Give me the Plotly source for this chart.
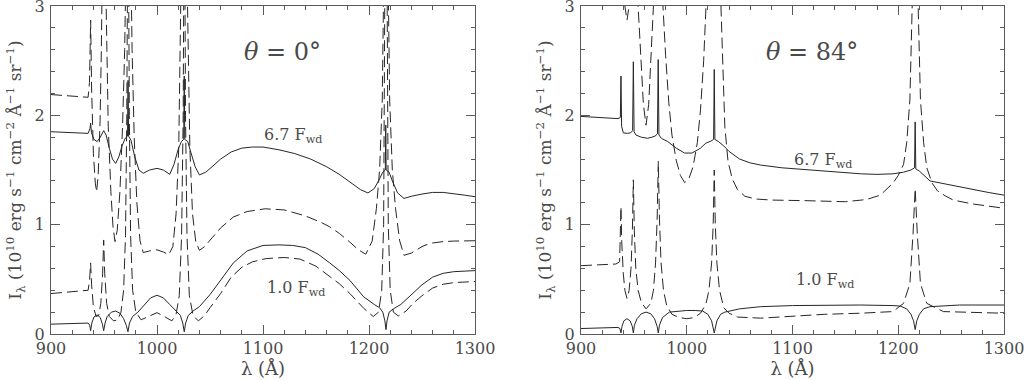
import plotly.graph_objects as go

# ---------------- data ----------------
# Left panel: theta = 0 deg
L67S_WL = [900, 920, 935, 936.8, 937.4, 938.2, 940.5, 943.5, 946.5, 949.7, 952, 955, 958, 961, 964, 967, 970,
           972.2, 972.7, 973.2, 975.5, 979, 983, 987, 993, 1000, 1006, 1012, 1016, 1020, 1023, 1025.2, 1025.7,
           1026.2, 1029, 1032, 1036, 1040, 1046, 1052, 1060, 1070, 1080, 1090, 1100, 1115, 1130, 1145, 1160,
           1172, 1182, 1192, 1199, 1205, 1210, 1213, 1215.4, 1215.8, 1216.2, 1219, 1222, 1227, 1233, 1240,
           1250, 1260, 1270, 1280, 1290, 1300]
L67S_I = [1.85, 1.845, 1.835, 1.88, 1.93, 1.84, 1.78, 1.76, 1.80, 1.86, 1.82, 1.70, 1.60, 1.56, 1.62, 1.72, 1.79,
          1.81, 2.32, 1.81, 1.77, 1.62, 1.50, 1.47, 1.50, 1.515, 1.50, 1.46, 1.55, 1.69, 1.76, 1.78, 2.36,
          1.78, 1.76, 1.66, 1.53, 1.455, 1.48, 1.53, 1.60, 1.665, 1.70, 1.71, 1.71, 1.685, 1.65, 1.60, 1.53,
          1.46, 1.39, 1.32, 1.29, 1.33, 1.42, 1.48, 1.50, 1.91, 1.50, 1.48, 1.40, 1.29, 1.24, 1.26,
          1.28, 1.295, 1.295, 1.285, 1.27, 1.256]

L67D_WL = [900, 920, 935, 936.3, 937.4, 938.3, 940, 941.8, 943, 944.5, 946.3, 947.5, 948.3, 951.5, 952.5, 954,
           956.5, 958.5, 960.4, 962.5, 965, 967.5, 969.5, 970.6, 975.5, 976.5, 978.5, 981, 984, 987, 993, 1000,
           1006, 1011, 1015, 1018, 1020.5, 1022, 1022.8, 1028.3, 1029.5, 1031, 1033.5, 1036.5, 1040, 1045,
           1052, 1060, 1072, 1085, 1102, 1120, 1140, 1155, 1163, 1172, 1182, 1190, 1197, 1203, 1207, 1210,
           1212.5, 1214, 1218, 1219.5, 1222, 1225, 1229, 1233, 1240, 1250, 1258, 1270, 1280, 1300]
L67D_I = [2.19, 2.175, 2.165, 2.30, 2.87, 2.25, 1.65, 1.38, 1.30, 1.45, 1.95, 2.6, 3.3, 3.3, 2.6, 1.9,
          1.3, 0.98, 0.845, 0.95, 1.3, 1.9, 2.6, 3.3, 3.3, 2.6, 1.8, 1.2, 0.85, 0.745, 0.76, 0.77,
          0.75, 0.725, 0.8, 1.1, 1.7, 2.5, 3.3, 3.3, 2.5, 1.7, 1.1, 0.85, 0.765, 0.80,
          0.88, 0.97, 1.07, 1.12, 1.145, 1.135, 1.08, 1.02, 0.98, 0.92, 0.84, 0.77, 0.73, 0.85, 1.15, 1.5,
          2.14, 3.3, 3.3, 2.14, 1.5, 1.15, 0.85, 0.72, 0.74, 0.80, 0.83, 0.845, 0.85, 0.853]

L10S_WL = [900, 920, 935, 936.5, 937.4, 938.5, 940.5, 943.5, 946.5, 948.5, 949.7, 951, 953, 957, 961, 965,
           968.5, 971, 972.6, 974, 977, 982, 988, 994, 1000, 1006, 1012, 1018, 1022, 1024.3, 1025.7, 1027,
           1029.5, 1034, 1040, 1050, 1060, 1072, 1085, 1100, 1115, 1128, 1140, 1152, 1163, 1172, 1182, 1195,
           1205, 1210, 1213, 1215, 1216, 1217, 1219, 1223, 1230, 1241.5, 1250, 1260, 1270, 1280, 1300]
L10S_I = [0.09, 0.095, 0.10, 0.08, 0.03, 0.10, 0.155, 0.175, 0.15, 0.09, 0.03, 0.10, 0.16, 0.20, 0.21, 0.19,
          0.14, 0.08, 0.02, 0.10, 0.16, 0.20, 0.27, 0.33, 0.355, 0.33, 0.27, 0.21, 0.17, 0.10, 0.02, 0.10,
          0.17, 0.21, 0.25, 0.36, 0.49, 0.65, 0.76, 0.81, 0.815, 0.81, 0.79, 0.73, 0.65, 0.58, 0.49, 0.34,
          0.27, 0.24, 0.20, 0.12, 0.04, 0.12, 0.20, 0.23, 0.27, 0.37, 0.45, 0.52, 0.555, 0.57, 0.58]

L10D_WL = [900, 920, 935, 936.3, 937.4, 938.3, 940, 942.5, 945, 947, 948.7, 949.7, 950.7, 952.5, 955, 959,
           963, 966, 968.5, 970.3, 971.5, 972.2, 973.2, 973.9, 975.1, 977, 980, 985, 992, 1000, 1007, 1014,
           1018, 1021, 1023.2, 1024.7, 1025.3, 1026.3, 1026.9, 1028.3, 1030.5, 1034, 1039, 1045, 1050, 1060,
           1070, 1080, 1090, 1103, 1120, 1135, 1150, 1163, 1172, 1182, 1195, 1204, 1209, 1212, 1213.8, 1215,
           1217, 1218.2, 1220, 1223, 1227.6, 1235, 1241.5, 1250, 1260, 1270, 1280, 1300]
L10D_I = [0.37, 0.385, 0.40, 0.48, 0.65, 0.45, 0.25, 0.16, 0.17, 0.28, 0.55, 0.86, 0.55, 0.28, 0.16, 0.12,
          0.13, 0.2, 0.4, 0.9, 2.0, 3.3, 3.3, 2.0, 0.9, 0.4, 0.2, 0.13, 0.16, 0.195, 0.16, 0.12,
          0.18, 0.35, 0.9, 2.0, 3.3, 3.3, 2.0, 0.9, 0.35, 0.17, 0.12, 0.17, 0.24, 0.37,
          0.52, 0.61, 0.66, 0.69, 0.70, 0.685, 0.62, 0.53, 0.46, 0.37, 0.235, 0.16, 0.2, 0.4, 1.0, 3.3,
          3.3, 1.0, 0.4, 0.2, 0.165, 0.21, 0.28, 0.35, 0.42, 0.455, 0.47, 0.48]

# Right panel: theta = 84 deg
R67S_WL = [900, 920, 935, 937.2, 937.8, 938.4, 940, 944, 947, 948.8, 949.5, 950.2, 952, 957, 963, 967, 970,
           972.3, 973.0, 973.7, 976, 982, 990, 998, 1005, 1013, 1018, 1023, 1025.4, 1026, 1026.6, 1030, 1035,
           1040, 1050, 1060, 1070, 1090, 1110, 1130, 1150, 1165, 1180, 1195, 1205, 1212, 1215.4, 1216,
           1216.6, 1220, 1230, 1240, 1252, 1270, 1285, 1300]
R67S_I = [1.99, 1.98, 1.97, 1.98, 2.36, 1.90, 1.84, 1.835, 1.84, 1.86, 2.49, 1.85, 1.82, 1.80, 1.79, 1.80, 1.81,
          1.83, 2.51, 1.82, 1.79, 1.76, 1.70, 1.655, 1.655, 1.70, 1.745, 1.765, 1.78, 2.42, 1.78, 1.76, 1.72,
          1.67, 1.60, 1.565, 1.545, 1.52, 1.505, 1.49, 1.475, 1.465, 1.46, 1.465, 1.48, 1.50, 1.52, 1.94,
          1.51, 1.49, 1.40, 1.38, 1.355, 1.32, 1.295, 1.27]

R67D_WL = [900, 935, 939, 941.5, 943.5, 945.5, 948, 952, 954, 956.5, 959, 961.5, 964, 966.5, 968.7, 970.5,
           976, 977.5, 980, 983, 986, 990, 994, 998, 1002, 1006, 1010, 1013, 1016, 1018.5, 1020, 1031, 1032.5,
           1034, 1036, 1039, 1043, 1048, 1055, 1065, 1080, 1110, 1150, 1170, 1183, 1195, 1200, 1205, 1208,
           1211, 1213, 1214.2, 1217.8, 1219, 1221, 1224, 1227, 1232, 1237, 1245, 1252, 1270, 1285, 1300]
R67D_I = [3.4, 3.4, 3.3, 3.0, 2.87, 3.0, 3.4, 3.4, 3.0, 2.5, 2.1, 1.91, 2.1, 2.6, 3.0, 3.4,
          3.4, 3.0, 2.55, 2.12, 1.82, 1.59, 1.45, 1.385, 1.42, 1.53, 1.75, 2.05, 2.5, 3.0, 3.4, 3.4, 3.0,
          2.45, 1.9, 1.58, 1.42, 1.32, 1.26, 1.235, 1.225, 1.22, 1.21, 1.23, 1.27, 1.38, 1.45, 1.55, 1.75,
          2.14, 2.9, 3.4, 3.4, 2.9, 2.14, 1.75, 1.52, 1.38, 1.31, 1.26, 1.225, 1.19, 1.17, 1.15]

R10S_WL = [900, 920, 935, 936.8, 937.8, 938.8, 940.5, 943.5, 946.5, 948.5, 949.5, 950.5, 953, 957, 961.5, 966,
           969.5, 972, 973.1, 974.2, 977, 983.5, 992, 1000, 1008, 1015, 1020, 1023.5, 1026, 1028.5, 1032,
           1036, 1050, 1070, 1100, 1130, 1164, 1195, 1202, 1208, 1212, 1214.5, 1216, 1217.5, 1220, 1224,
           1230, 1258, 1300]
R10S_I = [0.05, 0.055, 0.06, 0.05, 0.01, 0.07, 0.12, 0.14, 0.12, 0.07, 0.01, 0.08, 0.14, 0.185, 0.20, 0.185,
          0.14, 0.07, 0.01, 0.08, 0.15, 0.20, 0.21, 0.215, 0.215, 0.21, 0.18, 0.12, 0.01, 0.12, 0.18,
          0.20, 0.23, 0.25, 0.26, 0.265, 0.265, 0.26, 0.255, 0.23, 0.18, 0.12, 0.04, 0.12, 0.18, 0.23,
          0.25, 0.265, 0.265]

R10D_WL = [900, 920, 933, 936.5, 937.2, 937.8, 938.5, 940, 941.5, 943.5, 945.5, 947.3, 948.6, 949.5, 950.4,
           951.8, 954, 957, 961.5, 966, 968.5, 970.5, 972, 973.1, 974.2, 975.7, 978, 981, 986, 993, 1000,
           1007, 1013, 1018, 1021, 1023.5, 1025, 1026, 1027, 1028.5, 1031, 1035, 1040, 1048, 1070, 1100,
           1130, 1164, 1195, 1205, 1211, 1214, 1216, 1218, 1221, 1227, 1242.7, 1300]
R10D_I = [0.625, 0.635, 0.64, 0.66, 0.9, 1.165, 0.85, 0.55, 0.40, 0.325, 0.40, 0.6, 0.95, 1.41, 0.95,
          0.6, 0.40, 0.29, 0.23, 0.28, 0.40, 0.65, 1.05, 1.58, 1.05, 0.65, 0.40, 0.26, 0.18, 0.15, 0.14,
          0.15, 0.19, 0.27, 0.40, 0.65, 1.0, 1.50, 1.0, 0.65, 0.40, 0.24, 0.19, 0.155, 0.145, 0.165,
          0.18, 0.19, 0.205, 0.28, 0.46, 0.92, 1.33, 0.92, 0.46, 0.28, 0.205, 0.19]

X_RANGE = [900, 1300]
Y_RANGE = [0, 3]
ANGLE_LABELS = ["<i>θ</i> = 0°", "<i>θ</i> = 84°"]
FLUX_LABELS = ["6.7 F<sub>wd</sub>", "1.0 F<sub>wd</sub>"]
X_TITLE = "λ (Å)"
Y_TITLE = "I<sub>λ</sub> (10<sup>10</sup> erg s<sup>−1</sup> cm<sup>−2</sup> Å<sup>−1</sup> sr<sup>−1</sup>)"

# ---------------- figure ----------------
W, H = 1025, 380
FONT = "DejaVu Serif"
LINE_COL = "#262626"
AX_COL = "#5a5a5a"
TXT_COL = "#4a4a4a"
DASH = "11px,5px"

fig = go.Figure()

panels = [
    ("x", "y", [(L67S_WL, L67S_I, "solid"), (L67D_WL, L67D_I, DASH),
                (L10S_WL, L10S_I, "solid"), (L10D_WL, L10D_I, DASH)]),
    ("x2", "y2", [(R67S_WL, R67S_I, "solid"), (R67D_WL, R67D_I, DASH),
                  (R10S_WL, R10S_I, "solid"), (R10D_WL, R10D_I, DASH)]),
]
for xa, ya, curves in panels:
    for wl, val, dash in curves:
        fig.add_trace(go.Scatter(x=wl, y=val, xaxis=xa, yaxis=ya, mode="lines",
                                 line=dict(color=LINE_COL, width=1, dash=dash),
                                 showlegend=False, hoverinfo="skip"))

def xax(domain, anchor):
    return dict(domain=domain, anchor=anchor, range=X_RANGE, tick0=900, dtick=100,
                ticks="inside", ticklen=9, tickwidth=1, tickcolor=AX_COL, automargin=False,
                minor=dict(ticks="inside", ticklen=4, dtick=20, tickcolor=AX_COL, tickwidth=1),
                showline=True, linecolor=AX_COL, linewidth=1, mirror="ticks",
                showgrid=False, zeroline=False, ticklabeloverflow="allow",
                tickfont=dict(family=FONT, size=16, color=TXT_COL),
                title=dict(text=X_TITLE, font=dict(family=FONT, size=18, color=TXT_COL), standoff=2))

def yax(domain, anchor):
    return dict(domain=domain, anchor=anchor, range=Y_RANGE, tick0=0, dtick=1,
                ticks="inside", ticklen=9, tickwidth=1, tickcolor=AX_COL, automargin=False,
                minor=dict(ticks="inside", ticklen=4, dtick=0.2, tickcolor=AX_COL, tickwidth=1),
                showline=True, linecolor=AX_COL, linewidth=1, mirror="ticks",
                showgrid=False, zeroline=False, ticklabelstandoff=2, ticklabeloverflow="allow",
                tickfont=dict(family=FONT, size=16, color=TXT_COL),
                title=dict(text=Y_TITLE, font=dict(family=FONT, size=17, color=TXT_COL), standoff=8))

ydom = [1 - 334 / H, 1 - 6 / H]
fig.update_layout(
    width=W, height=H, margin=dict(l=0, r=0, t=0, b=0, autoexpand=False),
    paper_bgcolor="white", plot_bgcolor="white",
    xaxis=xax([51 / W, 475 / W], "y"),
    yaxis=yax(ydom, "x"),
    xaxis2=xax([581 / W, 1004 / W], "y2"),
    yaxis2=yax(ydom, "x2"),
)

ann = []
for i, (xr, yr) in enumerate([("x", "y"), ("x2", "y2")]):
    ann.append(dict(x=1118, y=2.58, xref=xr, yref=yr, text=ANGLE_LABELS[i], showarrow=False,
                    font=dict(family=FONT, size=24, color=TXT_COL)))
lab_pos = [[(1128, 1.82), (1131, 0.42)], [(1129, 1.59), (1131, 0.485)]]
for i, (xr, yr) in enumerate([("x", "y"), ("x2", "y2")]):
    for j in range(2):
        ann.append(dict(x=lab_pos[i][j][0], y=lab_pos[i][j][1], xref=xr, yref=yr, text=FLUX_LABELS[j],
                        showarrow=False, font=dict(family=FONT, size=16, color=TXT_COL)))
fig.update_layout(annotations=ann)

fig.write_html("out.html", config={"displayModeBar": False},
               post_script="document.body.style.margin='0px';")
